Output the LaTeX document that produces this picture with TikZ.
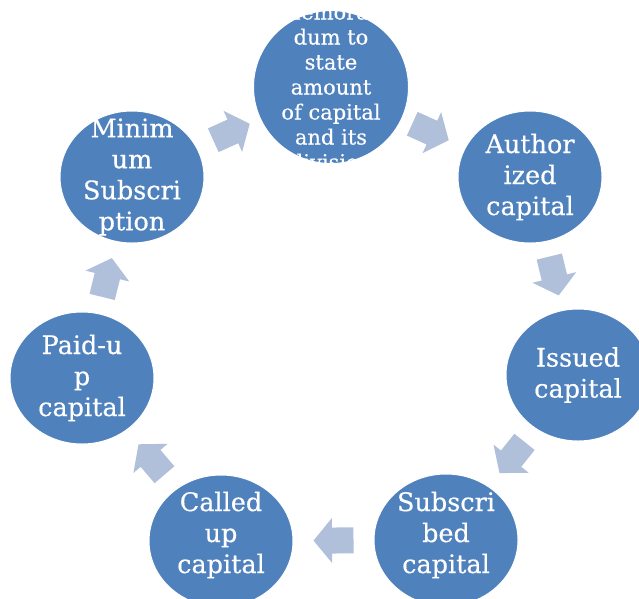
\documentclass[tikz,border=0pt]{standalone}
\usepackage{fontspec}
\newfontfamily\dvserif[FakeBold=0.4]{DejaVu Serif}
\usetikzlibrary{calc,shapes.geometric}
\definecolor{cblue}{RGB}{79,129,189}
\definecolor{carrow}{RGB}{176,192,218}
\begin{document}
\begin{tikzpicture}[x=1pt,y=-1pt,
  bub/.style={ellipse, fill=cblue, draw=white, line width=1pt, minimum width=144pt, minimum height=132pt, inner sep=0pt},
  btext/.style={text=white, align=center, font=\dvserif\fontsize{25.5}{31}\selectfont, inner sep=0pt},
  blockarrow/.pic={\fill[carrow] (-20,-13) -- (1.5,-13) -- (1.5,-22.5) -- (20,0) -- (1.5,22.5) -- (1.5,13) -- (-20,13) -- cycle;}]
\path[use as bounding box] (0,0) rectangle (639,598);
\fill[white] (0,0) rectangle (639,598);
\clip (0,0) rectangle (639,598);
% circles
\node[bub, minimum width=155pt, minimum height=153pt] (mem) at (331,87) {};
\node[bub] (auth) at (530,177) {};
\node[bub] (iss) at (578,375) {};
\node[bub] (sub) at (446,540) {};
\node[bub] (call) at (221,541) {};
\node[bub] (paid) at (82,378) {};
\node[bub] (min) at (132,177) {};
% texts
\node[btext, font=\dvserif\fontsize{21}{25}\selectfont] (memt) at (mem) {Memoran\\dum to\\state\\amount\\of capital\\and its\\division};
\node[btext] (autht) at (auth) {Author\\ized\\capital};
\node[btext] (isst) at (iss) {Issued\\capital};
\node[btext] (subt) at (446,535) {Subscri\\bed\\capital};
\node[btext] (callt) at (221,535) {Called\\up\\capital};
\node[btext] (paidt) at (paid) {Paid-u\\p\\capital};
\node[btext] (mint) at (min) {Minim\\um\\Subscri\\ption};
% arrows
\foreach \a/\b in {min/mem, mem/auth, auth/iss, iss/sub, sub/call, call/paid, paid/min}{
  \path let \p1=($(\b)-(\a)$), \n1={atan2(\y1,\x1)} in ($(\a)!0.5!(\b)$) pic[rotate=\n1]{blockarrow};
}
\end{tikzpicture}
\end{document}
